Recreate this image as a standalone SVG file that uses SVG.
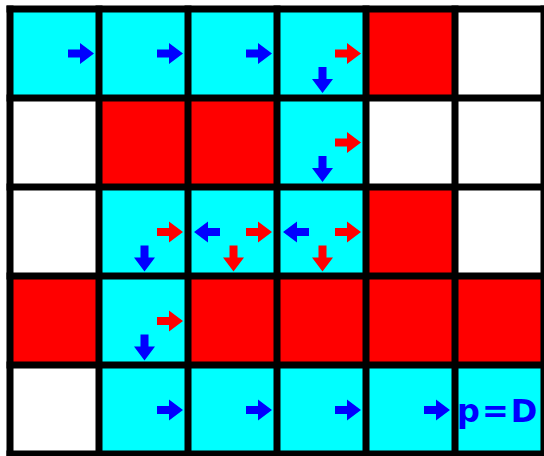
<svg xmlns="http://www.w3.org/2000/svg" xmlns:xlink="http://www.w3.org/1999/xlink" width="544" height="456" viewBox="0 0 544 456">
<style>
.c{fill:#00ffff}.r{fill:#ff0000}.w{fill:#ffffff}
.b{fill:#0000ff}.rd{fill:#ff0000}
.g{stroke:#000;stroke-width:7;fill:none}
.t{font-family:"DejaVu Sans",sans-serif;font-weight:bold;font-size:32px;letter-spacing:2px;fill:#0000ff}
</style>
<defs>
<path id="ar" d="M-13,-4 H-1 V-10.5 L13,0 L-1,10.5 V4 H-13 Z"/>
</defs>
<rect width="544" height="456" fill="#fff"/>
<g id="r0c0"><rect class="c" x="10" y="9" width="89" height="89"/><use href="#ar" class="b" transform="translate(81,53.5)"/></g>
<g id="r0c1"><rect class="c" x="99" y="9" width="89" height="89"/><use href="#ar" class="b" transform="translate(170,53.5)"/></g>
<g id="r0c2"><rect class="c" x="188" y="9" width="89" height="89"/><use href="#ar" class="b" transform="translate(259,53.5)"/></g>
<g id="r0c3"><rect class="c" x="277" y="9" width="89" height="89"/><use href="#ar" class="rd" transform="translate(348,53.5)"/><use href="#ar" class="b" transform="translate(322.5,80) rotate(90)"/></g>
<g id="r0c4"><rect class="r" x="366" y="9" width="89" height="89"/></g>
<g id="r0c5"><rect class="w" x="455" y="9" width="89" height="89"/></g>

<g id="r1c0"><rect class="w" x="10" y="98" width="89" height="89"/></g>
<g id="r1c1"><rect class="r" x="99" y="98" width="89" height="89"/></g>
<g id="r1c2"><rect class="r" x="188" y="98" width="89" height="89"/></g>
<g id="r1c3"><rect class="c" x="277" y="98" width="89" height="89"/><use href="#ar" class="rd" transform="translate(348,142.5)"/><use href="#ar" class="b" transform="translate(322.5,169) rotate(90)"/></g>
<g id="r1c4"><rect class="w" x="366" y="98" width="89" height="89"/></g>
<g id="r1c5"><rect class="w" x="455" y="98" width="89" height="89"/></g>

<g id="r2c0"><rect class="w" x="10" y="187" width="89" height="89"/></g>
<g id="r2c1"><rect class="c" x="99" y="187" width="89" height="89"/><use href="#ar" class="rd" transform="translate(170,232)"/><use href="#ar" class="b" transform="translate(144.5,258.5) rotate(90)"/></g>
<g id="r2c2"><rect class="c" x="188" y="187" width="89" height="89"/><use href="#ar" class="b" transform="translate(207,232) rotate(180)"/><use href="#ar" class="rd" transform="translate(259,232)"/><use href="#ar" class="rd" transform="translate(233.5,258.5) rotate(90)"/></g>
<g id="r2c3"><rect class="c" x="277" y="187" width="89" height="89"/><use href="#ar" class="b" transform="translate(296,232) rotate(180)"/><use href="#ar" class="rd" transform="translate(348,232)"/><use href="#ar" class="rd" transform="translate(322.5,258.5) rotate(90)"/></g>
<g id="r2c4"><rect class="r" x="366" y="187" width="89" height="89"/></g>
<g id="r2c5"><rect class="w" x="455" y="187" width="89" height="89"/></g>

<g id="r3c0"><rect class="r" x="10" y="276" width="89" height="89"/></g>
<g id="r3c1"><rect class="c" x="99" y="276" width="89" height="89"/><use href="#ar" class="rd" transform="translate(170,321)"/><use href="#ar" class="b" transform="translate(144.5,347.5) rotate(90)"/></g>
<g id="r3c2"><rect class="r" x="188" y="276" width="89" height="89"/></g>
<g id="r3c3"><rect class="r" x="277" y="276" width="89" height="89"/></g>
<g id="r3c4"><rect class="r" x="366" y="276" width="89" height="89"/></g>
<g id="r3c5"><rect class="r" x="455" y="276" width="89" height="89"/></g>

<g id="r4c0"><rect class="w" x="10" y="365" width="89" height="89"/></g>
<g id="r4c1"><rect class="c" x="99" y="365" width="89" height="89"/><use href="#ar" class="b" transform="translate(170,410)"/></g>
<g id="r4c2"><rect class="c" x="188" y="365" width="89" height="89"/><use href="#ar" class="b" transform="translate(259,410)"/></g>
<g id="r4c3"><rect class="c" x="277" y="365" width="89" height="89"/><use href="#ar" class="b" transform="translate(348,410)"/></g>
<g id="r4c4"><rect class="c" x="366" y="365" width="89" height="89"/><use href="#ar" class="b" transform="translate(437,410)"/></g>
<g id="r4c5"><rect class="c" x="455" y="365" width="89" height="89"/><text class="t" x="457" y="422.3">p=D</text></g>

<g id="connectors" class="g">
<path d="M10,5.5V456M99,5.5V456M188,5.5V456M277,5.5V456M366,5.5V456M455,5.5V456M544,5.5V456"/>
<path d="M6.5,9H544M6.5,98H544M6.5,187H544M6.5,276H544M6.5,365H544M6.5,454H544"/>
</g>
</svg>
